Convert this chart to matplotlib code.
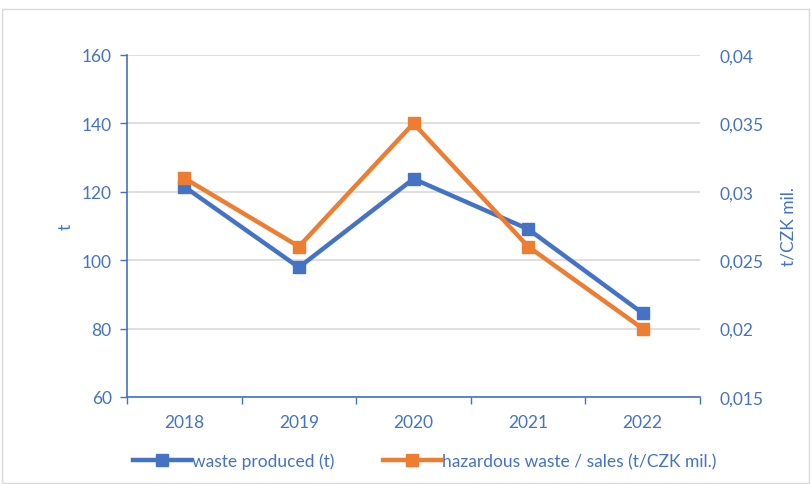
import numpy as np
import matplotlib
matplotlib.use('Agg')
import matplotlib.pyplot as plt
from matplotlib.ticker import FuncFormatter, FixedLocator
from matplotlib.patches import Rectangle

plt.rcParams['font.family'] = ['Lato', 'DejaVu Sans']

# data
years = ['2018', '2019', '2020', '2021', '2022']
waste_t = [121.5, 97.9, 123.8, 109.1, 84.5]
hazard_ratio = [0.031, 0.026, 0.035, 0.026, 0.020]

blue = '#4472C4'
orange = '#ED7D31'
grid_col = '#D9D9D9'
fs = 12.5

fig = plt.figure(figsize=(8.11, 4.85), dpi=100)
ax = fig.add_axes([127/811, 1-398/485, 573/811, 342/485])
ax2 = ax.twinx()

x = np.arange(len(years))
l1, = ax.plot(x, waste_t, color=blue, lw=3.2, marker='s', ms=8, zorder=3,
              label='waste produced (t)')
l2, = ax2.plot(x, hazard_ratio, color=orange, lw=3.2, marker='s', ms=8, zorder=3,
               label='hazardous waste / sales (t/CZK mil.)')

ax.set_xlim(-0.5, len(years)-0.5)
ax.set_ylim(60, 160)
ax.set_yticks(np.arange(60, 161, 20))
ax2.set_ylim(0.015, 0.04)
ax2.set_yticks([0.015, 0.02, 0.025, 0.03, 0.035, 0.04])
ax2.yaxis.set_major_formatter(FuncFormatter(lambda v, p: ('%g' % round(v, 4)).replace('.', ',')))

ax.set_xticks(x)
ax.set_xticklabels(years)
ax.xaxis.set_minor_locator(FixedLocator(np.arange(-0.5, len(years), 1)))
ax.tick_params(axis='x', which='major', length=0, pad=12, labelcolor=blue, labelsize=fs)
ax.tick_params(axis='x', which='minor', length=5, color=blue, width=1)
ax.tick_params(axis='y', length=5, color=blue, width=1, labelcolor=blue, labelsize=fs, pad=6)
ax2.tick_params(axis='y', length=0, labelcolor=blue, labelsize=fs, pad=14)

ax.grid(axis='y', color=grid_col, lw=1.2, zorder=0)
ax.set_axisbelow(True)

for s in ['top', 'right']:
    ax.spines[s].set_visible(False)
for s in ['top', 'right', 'left', 'bottom']:
    ax2.spines[s].set_visible(False)
ax.spines['left'].set_color(blue)
ax.spines['bottom'].set_color(blue)
ax.spines['left'].set_linewidth(1.2)
ax.spines['bottom'].set_linewidth(1.2)

ax.set_ylabel('t', color=blue, fontsize=fs, labelpad=6)
ax2.set_ylabel('t/CZK mil.', color=blue, fontsize=fs, labelpad=12)

fig.legend(handles=[l1, l2], loc='center', bbox_to_anchor=(0.524, 1-462/485),
           ncol=2, frameon=False, fontsize=fs, handlelength=3.3, columnspacing=2.8,
           handletextpad=0.1, labelcolor=blue)

fig.patches.append(Rectangle((0.003, 0.003), 0.994, 0.977, transform=fig.transFigure,
                             fill=False, edgecolor='#D9D9D9', lw=1))

fig.savefig('out.png', dpi=100)
